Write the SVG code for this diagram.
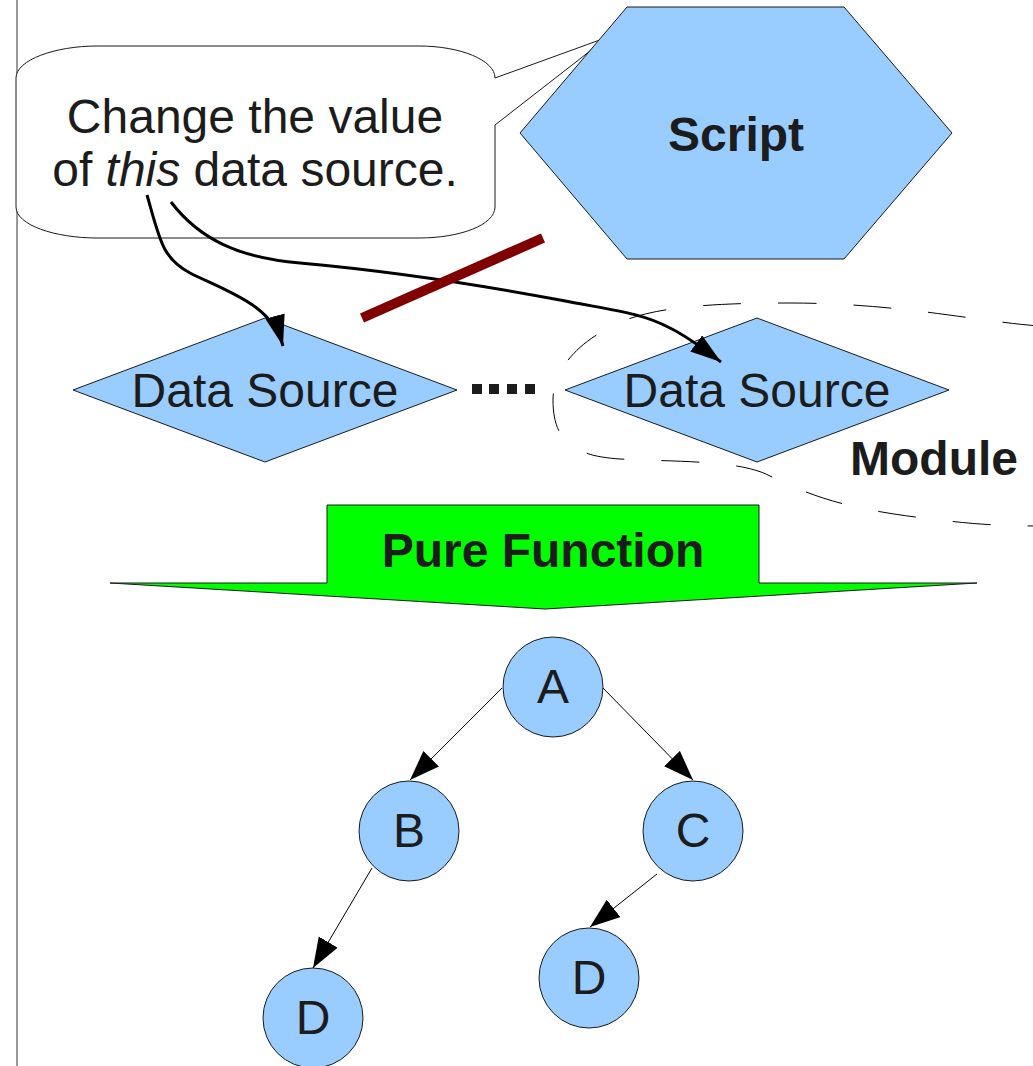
<svg xmlns="http://www.w3.org/2000/svg" width="1033" height="1066" viewBox="0 0 1033 1066">
<style>
.node{fill:#99ccff;stroke:#1a1a1a;stroke-width:1}
.t{font-family:"Liberation Sans",Arial,sans-serif;font-size:48px;fill:#1c1c1c;text-anchor:middle}
.b{font-weight:bold}
.edge{fill:none;stroke:#000;stroke-width:1}
.curve{fill:none;stroke:#000;stroke-width:3}
</style>
<defs>
<marker id="ah" markerUnits="userSpaceOnUse" markerWidth="32" markerHeight="24" refX="30" refY="11" orient="auto">
<path d="M0,0 L30,11 L0,22 Z" fill="#000"/>
</marker>
<marker id="ah2" markerUnits="userSpaceOnUse" markerWidth="34" markerHeight="24" refX="31" refY="10" orient="auto">
<path d="M0,0 L31,10 L0,20 Z" fill="#000"/>
</marker>
</defs>
<rect width="1033" height="1066" fill="#fff"/>
<line x1="17" y1="0" x2="17" y2="1066" stroke="#333" stroke-width="1"/>

<g id="module">
<path d="M1040,326 C980,322 900,303 790,303 C700,303 640,308 605,330 C565,352 553,380 553,400 C553,440 572,456 620,459 C680,462 740,460 770,476 C815,498 850,510 940,520 C980,525 1010,526 1040,526" fill="none" stroke="#000" stroke-width="1" stroke-dasharray="38 37"/>
<text class="t b" x="934" y="475">Module</text>
</g>

<g id="callout">
<path d="M97,46 L419,46 C460,46 495,60 495,78 L608,37 L495,125 L495,207 C495,225 460,238 419,238 L97,238 C55,238 16,225 16,207 L16,78 C16,60 55,46 97,46 Z" fill="#fff" stroke="#1a1a1a" stroke-width="1"/>
<text class="t" x="255" y="133">Change the value</text>
<text class="t" x="255" y="186">of <tspan font-style="italic">this</tspan> data source.</text>
</g>

<g id="script">
<polygon class="node" points="627,7 844,7 952,133 844,259 627,259 520,133"/>
<text class="t b" x="736" y="151">Script</text>
</g>

<g id="ds1">
<polygon class="node" points="73,390 265,318 457,390 265,462"/>
<text class="t" x="265" y="407">Data Source</text>
</g>

<g id="dots" fill="#1c1c1c">
<rect x="472" y="384" width="10" height="10"/>
<rect x="489" y="384" width="10" height="10"/>
<rect x="507" y="384" width="10" height="10"/>
<rect x="525" y="384" width="10" height="10"/>
</g>

<g id="ds2">
<polygon class="node" points="565,390 757,318 949,390 757,462"/>
<text class="t" x="757" y="407">Data Source</text>
</g>

<g id="pure-function">
<polygon points="327,505 759,505 759,583 977,583 545,609 110,583 327,583" fill="#00ff00" stroke="#1a1a1a" stroke-width="1"/>
<text class="t b" x="543" y="567">Pure Function</text>
</g>

<g id="nodeA"><circle class="node" cx="553" cy="687" r="50"/><text class="t" x="553" y="703" font-size="46">A</text></g>
<g id="nodeB"><circle class="node" cx="409" cy="831" r="50"/><text class="t" x="409" y="847" font-size="46">B</text></g>
<g id="nodeC"><circle class="node" cx="693" cy="831" r="50"/><text class="t" x="693" y="847" font-size="46">C</text></g>
<g id="nodeD1"><circle class="node" cx="313" cy="1018" r="50"/><text class="t" x="313" y="1034" font-size="46">D</text></g>
<g id="nodeD2"><circle class="node" cx="589" cy="978" r="50"/><text class="t" x="589" y="994" font-size="46">D</text></g>

<g id="connectors">
<path class="curve" d="M147,195 C160,240 162,258 190,273 C230,293 272,305 283,346" marker-end="url(#ah2)"/>
<path class="curve" d="M171,202 C200,240 240,258 300,263 C400,272 480,285 560,300 C610,310 640,312 670,328 C690,338 705,350 721,362" marker-end="url(#ah2)"/>
<line class="edge" x1="502" y1="688" x2="410" y2="780" marker-end="url(#ah)"/>
<line class="edge" x1="603" y1="688" x2="693" y2="780" marker-end="url(#ah)"/>
<line class="edge" x1="372" y1="868" x2="313" y2="968" marker-end="url(#ah)"/>
<line class="edge" x1="657" y1="874" x2="590" y2="927" marker-end="url(#ah)"/>
</g>

<g id="strike">
<line x1="362" y1="318" x2="543" y2="238" stroke="#800000" stroke-width="10"/>
</g>
</svg>
